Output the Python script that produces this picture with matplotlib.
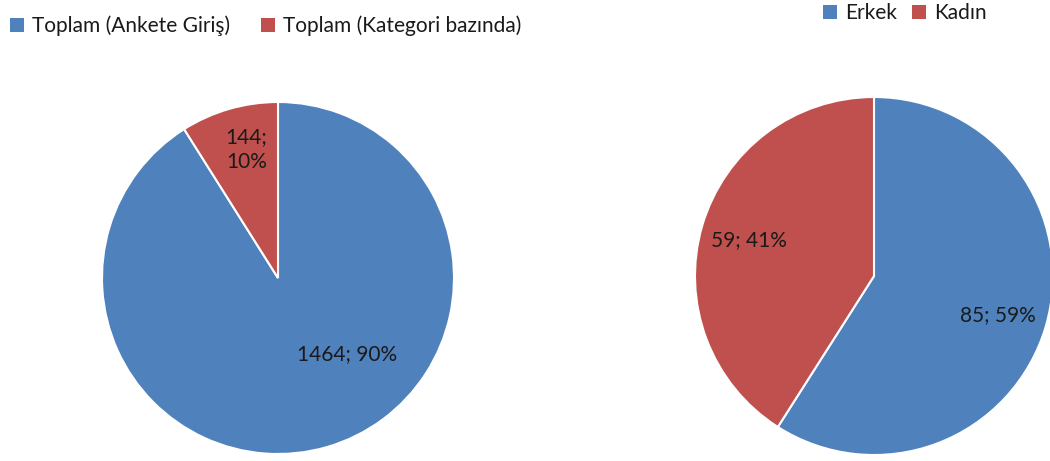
import matplotlib
matplotlib.use("Agg")
import matplotlib.pyplot as plt
from matplotlib.patches import Patch

plt.rcParams['font.family'] = ['Lato', 'DejaVu Sans']

left_labels = ["Toplam (Ankete Giriş)", "Toplam (Kategori bazında)"]
left_values = [1464, 144]
left_pcts = [90, 10]

right_labels = ["Erkek", "Kadın"]
right_values = [85, 59]
right_pcts = [59, 41]

colors = ["#4F81BD", "#C0504D"]

W, H = 1050, 461
fig = plt.figure(figsize=(W / 100, H / 100), dpi=100)

def add_pie(cx, cy, r, values):
    ax = fig.add_axes([(cx - r) / W, (H - cy - r) / H, 2 * r / W, 2 * r / H])
    ax.pie(values, colors=colors, startangle=90, counterclock=False, radius=1,
           wedgeprops=dict(edgecolor='white', linewidth=1.5))
    ax.set_xlim(-1, 1)
    ax.set_ylim(-1, 1)
    ax.axis('off')
    return ax

axL = add_pie(278, 278, 176, left_values)
axL.text(0.39, -0.43, f"{left_values[0]}; {left_pcts[0]}%", ha='center', va='center', fontsize=15, color='#1a1a1a')
axL.text(-0.18, 0.73, f"{left_values[1]};\n{left_pcts[1]}%", ha='center', va='center', fontsize=15, color='#1a1a1a', linespacing=1.25)

axR = add_pie(874, 276, 179, right_values)
axR.text(0.69, -0.22, f"{right_values[0]}; {right_pcts[0]}%", ha='center', va='center', fontsize=15, color='#1a1a1a')
axR.text(-0.70, 0.20, f"{right_values[1]}; {right_pcts[1]}%", ha='center', va='center', fontsize=15, color='#1a1a1a')

def legend(labels, x, y, spacing):
    handles = [Patch(facecolor=c, edgecolor='none') for c in colors]
    fig.legend(handles, labels, loc='center left', bbox_to_anchor=(x / W, 1 - y / H),
               ncol=2, frameon=False, fontsize=15, handlelength=0.65, handleheight=0.65,
               handletextpad=0.4, columnspacing=spacing, borderaxespad=0, borderpad=0,
               labelcolor='#1a1a1a')

legend(left_labels, 10, 26, 1.5)
legend(right_labels, 823, 13, 0.75)

fig.savefig("out.png", dpi=100)
